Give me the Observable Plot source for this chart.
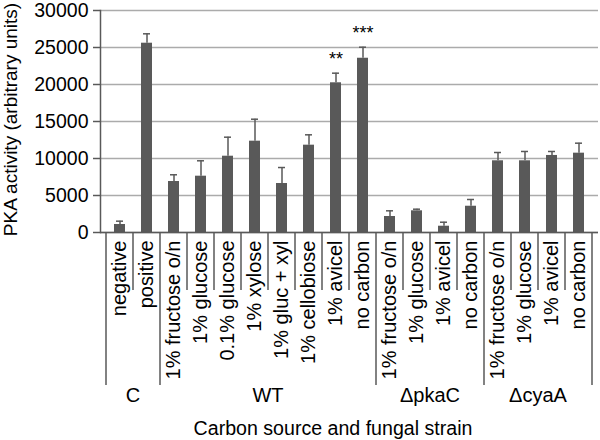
<!DOCTYPE html>
<html><head><meta charset="utf-8">
<script src="https://cdn.jsdelivr.net/npm/d3@7"></script>
<script src="https://cdn.jsdelivr.net/npm/@observablehq/plot@0.6"></script>
<style>body{margin:0;background:#fff}</style>
</head><body><div id="chart"></div>
<script>
// ---- data ----
const groups = ["C","C","WT","WT","WT","WT","WT","WT","WT","WT","ΔpkaC","ΔpkaC","ΔpkaC","ΔpkaC","ΔcyaA","ΔcyaA","ΔcyaA","ΔcyaA"];
const labels = ["negative","positive","1% fructose o/n","1% glucose","0.1% glucose","1% xylose","1% gluc + xyl","1% cellobiose","1% avicel","no carbon","1% fructose o/n","1% glucose","1% avicel","no carbon","1% fructose o/n","1% glucose","1% avicel","no carbon"];
const values = [1080,25580,6890,7610,10310,12340,6620,11800,20230,23550,2160,2930,850,3550,9690,9690,10410,10720];
const errors = [450,1270,910,2080,2570,2970,2160,1400,1300,1490,770,220,540,910,1120,1260,540,1350];
const stars = ["","","","","","","","","**","***","","","","","","","",""];
const groupNames = ["C","WT","ΔpkaC","ΔcyaA"];
const yTicks = [0,5000,10000,15000,20000,25000,30000];
const yTitle = "PKA activity (arbitrary units)";
const xTitle = "Carbon source and fungal strain";

const data = labels.map((l,i)=>({key: groups[i]+"|"+l, group: groups[i], label: l, value: values[i], top: values[i]+errors[i], star: stars[i]}));
const keys = data.map(d=>d.key);
const font = "'Liberation Sans', Arial, sans-serif";
const dark = "#595959";
const ink = "#000";

function categoryAxis(index, scales, vals, dim) {
  const x = scales.x;
  const step = x.step();
  const bw = x.bandwidth();
  const y0 = dim.height - dim.marginBottom;
  const g = d3.create("svg:g");
  const bounds = keys.map(k => x(k) + bw/2 - step/2);
  bounds.push(bounds[bounds.length-1] + step);
  bounds.forEach((bx,i) => {
    const isGroupEdge = i === 0 || i === keys.length || groups[i] !== groups[i-1];
    g.append("line").attr("x1", bx).attr("x2", bx).attr("y1", y0).attr("y2", y0 + (isGroupEdge ? 153 : 58))
      .attr("stroke", dark).attr("stroke-width", 1.5);
  });
  groupNames.forEach(gn => {
    const idx = groups.map((g2,i)=>g2===gn?i:-1).filter(i=>i>=0);
    const cx = (x(keys[idx[0]]) + x(keys[idx[idx.length-1]]))/2 + bw/2;
    g.append("text").attr("x", cx).attr("y", y0 + 163).attr("text-anchor","middle").attr("dominant-baseline","central")
      .attr("font-family", font).attr("font-size", 20).attr("fill", ink).text(gn);
  });
  g.append("text").attr("x", (dim.marginLeft + dim.width - dim.marginRight)/2 - 16).attr("y", y0 + 196)
    .attr("text-anchor","middle").attr("dominant-baseline","central")
    .attr("font-family", font).attr("font-size", 19.6).attr("fill", ink).text(xTitle);
  return g.node();
}

const chart = Plot.plot({
  width: 600,
  height: 440,
  marginLeft: 100,
  marginRight: 2,
  marginTop: 10,
  marginBottom: 208,
  style: {fontFamily: font, fontSize: "20px", background: "#fff", color: ink},
  x: {domain: keys, paddingInner: 0.6, paddingOuter: 0.3, label: null},
  y: {domain: [0, 30000], label: null},
  marks: [
    Plot.gridY(yTicks, {stroke: "#ababab", strokeOpacity: 1, strokeWidth: 1.5}),
    Plot.barY(data, {x: "key", y: "value", fill: dark}),
    Plot.ruleX(data, {x: "key", y1: "value", y2: "top", stroke: dark, strokeWidth: 1.5}),
    Plot.tickY(data, {x: "key", y: "top", stroke: dark, strokeWidth: 1.5, insetLeft: 2, insetRight: 2}),
    Plot.text(data, {x: "key", y: "top", text: "star", dy: -14, fontSize: 18, fill: ink}),
    Plot.frame({anchor: "left", stroke: dark, strokeWidth: 1.5}),
    Plot.ruleY([0], {stroke: dark, strokeWidth: 1.5}),
    Plot.axisY({ticks: yTicks, tickSize: 7, tickPadding: 5, tickFormat: d => String(d), label: null, stroke: dark, strokeWidth: 1.5, fill: ink, fontSize: 19.5}),
    Plot.axisX({tickRotate: -90, tickSize: 0, tickPadding: 8, tickFormat: k => k.split("|")[1], label: null, fill: ink, fontSize: 20}),
    Plot.text([yTitle], {frameAnchor: "left", dx: -90, dy: -2, rotate: -90, fontSize: 19, fill: ink, lineAnchor: "middle", textAnchor: "middle"}),
    categoryAxis
  ]
});
document.getElementById("chart").appendChild(chart);
</script>
</body></html>
